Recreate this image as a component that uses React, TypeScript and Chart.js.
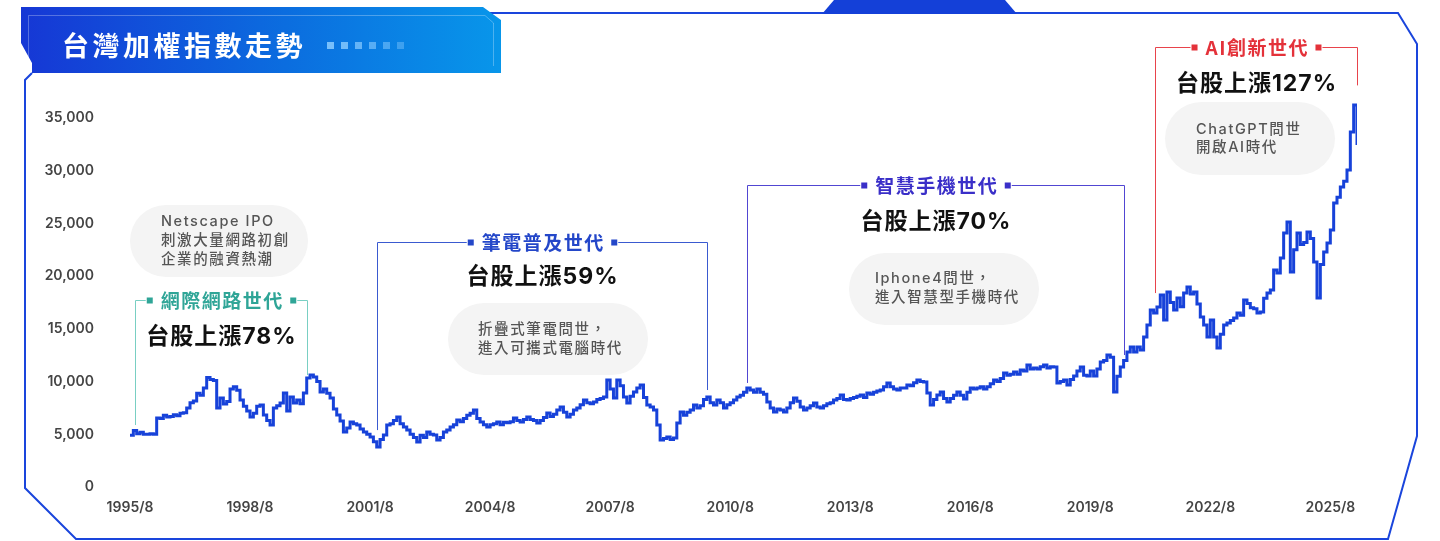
import React, { useEffect, useRef } from 'react';
import { Chart, registerables } from 'chart.js';

Chart.register(...registerables);

// ---- TAIEX monthly closes, month 0 = 1995/8 ----
const close1995to1999 = [
  4900, 5350, 5050, 5200, 5000,
  5000, 5050, 5000, 6550, 6500, 6800, 6650, 6700, 6850, 6750, 7000, 7050,
  7500, 8000, 8150, 8900, 8700, 9400, 10400, 10200, 10100, 7500, 8440, 7870,
  8100, 9300, 9500, 9180, 8250, 7650, 7200, 6640, 7000, 7650, 7780, 6830,
  6300, 5880, 7490, 7700, 7970, 8920, 7200, 8540, 7970, 8250, 7900, 8920,
];
const close2000to2004 = [
  10340, 10620, 10430, 10000, 9010, 9300, 8900, 8440, 7400, 6830, 6260, 5220,
  5600, 6170, 6000, 5880, 5500, 5220, 5000, 4740, 4300, 3800, 4500, 4930,
  5880, 6000, 6300, 6640, 6000, 5700, 5410, 5000, 4700, 4270, 4900, 4700,
  5220, 5000, 4930, 4460, 4700, 5220, 5400, 5690, 5900, 6360, 6200, 6500,
  6800, 7000, 7300, 6500, 6170, 5900, 5690, 5900, 6000, 6170, 5900, 6150,
];
const close2005to2009 = [
  6100, 6200, 6545, 6300, 6170, 6400, 6640, 6400, 6300, 6070, 6300, 6600,
  7020, 6700, 6900, 7300, 7590, 7100, 6640, 6900, 7300, 7500, 7800, 8250,
  8000, 7900, 8060, 8300, 8400, 8540, 10150, 9300, 8440, 10150, 9600, 8540,
  7970, 8600, 9010, 9400, 9670, 8500, 7780, 7600, 7300, 5880, 4460, 4600,
  4740, 4500, 4650, 6070, 7110, 6800, 7100, 7300, 7780, 7500, 7700, 8300,
];
const close2010to2014 = [
  8540, 8000, 7780, 8250, 8000, 7490, 7800, 8000, 8250, 8540, 8700, 9000,
  9390, 9200, 9000, 9300, 9000, 8800, 8060, 7500, 7110, 7400, 7300, 7110,
  7500, 8000, 8440, 8140, 7600, 7300, 7500, 7700, 7970, 7600, 7490, 7700,
  7900, 8000, 8250, 8400, 8730, 8300, 8250, 8400, 8500, 8600, 8730, 8500,
  8920, 8800, 9000, 9100, 9200, 9500, 9870, 9500, 9300, 9200, 9400, 9400,
];
const close2015to2019 = [
  9680, 9600, 9900, 10150, 10000, 9960, 8920, 7780, 8300, 8730, 9010, 8400,
  8060, 8400, 8700, 9010, 8700, 8340, 9000, 9390, 9300, 9400, 9500, 9300,
  9500, 9800, 10150, 10000, 10300, 10810, 10600, 10700, 10900, 10700, 11100, 11000,
  11570, 11200, 11300, 11190, 11400, 11570, 11300, 11400, 11380, 9870, 10000, 10150,
  9680, 10200, 10520, 11000, 11380, 10600, 10520, 11000, 10520, 11200, 11860, 12000,
];
const close2020to2026 = [
  12520, 12300, 9010, 10500, 11380, 12000, 12800, 13280, 12800, 13280, 13000, 14230,
  15370, 16790, 16500, 17070, 18210, 15840, 18500, 17500, 16800, 17930, 17090, 18400,
  18970, 18300, 18500, 17370, 16130, 15370, 14230, 15840, 14230, 13190, 14500, 15370,
  15560, 15800, 16030, 16500, 16300, 17740, 17400, 17000, 16900, 16500, 16600, 17900,
  18400, 18700, 20580, 20300, 21720, 24100, 25140, 20400, 22500, 24100, 23000, 23200,
  24190, 23570, 21340, 17930, 21100, 22300, 23150, 24380, 26940, 27500, 28460, 29000,
  30070, 33680, 36240, 32440,
];

const xTickMonths = [0, 36, 72, 108, 144, 180, 216, 252, 288, 324, 360];
const xTickLabels = ['1995/8', '1998/8', '2001/8', '2004/8', '2007/8', '2010/8', '2013/8', '2016/8', '2019/8', '2022/8', '2025/8'];
const yTickValues = [0, 5000, 10000, 15000, 20000, 25000, 30000, 35000];

// ---- Era annotations ----
const eraTitles = ['網際網路世代', '筆電普及世代', '智慧手機世代', 'AI創新世代'];
const eraGains = ['台股上漲78%', '台股上漲59%', '台股上漲70%', '台股上漲127%'];
const eraNotes = [
  ['Netscape IPO', '刺激大量網路初創', '企業的融資熱潮'],
  ['折疊式筆電問世，', '進入可攜式電腦時代'],
  ['Iphone4問世，', '進入智慧型手機時代'],
  ['ChatGPT問世', '開啟AI時代'],
];
const eraStartMonth = [1.5, 74, 185, 307.5];
const eraEndMonth = [53, 173, 298, 368];
const eraStartLevel = [5880, 5400, 9870, 18400];
const eraEndLevel = [10620, 9200, 12520, 38100];

const TITLE = '台灣加權指數走勢';

const monthlyClose = [
  ...close1995to1999,
  ...close2000to2004,
  ...close2005to2009,
  ...close2010to2014,
  ...close2015to2019,
  ...close2020to2026,
];

const eraLayout = [
  { titleY: 300, gainY: 337, bx: 130, by: 205, bw: 178, bh: 72, tx: 161, lines: [222, 241, 260], line: '#79cfc3', text: '#2fa597' },
  { titleY: 242, gainY: 277, bx: 448, by: 303, bw: 200, bh: 72, tx: 478, lines: [330, 349], line: '#3a5ad0', text: '#2447c9' },
  { titleY: 185, gainY: 222, bx: 849, by: 253, bw: 190, bh: 72, tx: 875, lines: [279, 298], line: '#5146d2', text: '#3a2fc8' },
  { titleY: 47, gainY: 84, bx: 1165, by: 102, bw: 170, bh: 73, tx: 1196, lines: [130, 148], line: '#e8434b', text: '#e4323a' },
];

function roundRect(ctx: CanvasRenderingContext2D, x: number, y: number, w: number, h: number, r: number) {
  ctx.beginPath();
  ctx.moveTo(x + r, y);
  ctx.lineTo(x + w - r, y);
  ctx.arc(x + w - r, y + r, r, -Math.PI / 2, 0);
  ctx.lineTo(x + w, y + h - r);
  ctx.arc(x + w - r, y + h - r, r, 0, Math.PI / 2);
  ctx.lineTo(x + r, y + h);
  ctx.arc(x + r, y + h - r, r, Math.PI / 2, Math.PI);
  ctx.lineTo(x, y + r);
  ctx.arc(x + r, y + r, r, Math.PI, Math.PI * 1.5);
  ctx.closePath();
}

const decorPlugin = {
  id: 'decor',
  beforeDraw(chart: any) {
    const ctx: CanvasRenderingContext2D = chart.ctx;
    ctx.save();
    ctx.fillStyle = '#ffffff';
    ctx.fillRect(0, 0, chart.width, chart.height);

    // frame
    ctx.strokeStyle = '#1a45dc';
    ctx.lineWidth = 2;
    ctx.beginPath();
    ctx.moveTo(32, 73);
    ctx.lineTo(25, 80);
    ctx.lineTo(25, 488);
    ctx.lineTo(76, 539);
    ctx.lineTo(1388, 539);
    ctx.lineTo(1417, 436);
    ctx.lineTo(1417, 44);
    ctx.lineTo(1398, 13);
    ctx.lineTo(490, 13);
    ctx.stroke();

    // top tab
    ctx.fillStyle = '#1440d8';
    ctx.beginPath();
    ctx.moveTo(822, 14);
    ctx.lineTo(834, 0);
    ctx.lineTo(1005, 0);
    ctx.lineTo(1017, 14);
    ctx.closePath();
    ctx.fill();

    // banner
    const g = ctx.createLinearGradient(21, 0, 501, 0);
    g.addColorStop(0, '#1637d5');
    g.addColorStop(0.55, '#0b6ddf');
    g.addColorStop(1, '#0896ea');
    ctx.fillStyle = g;
    ctx.beginPath();
    ctx.moveTo(21, 7);
    ctx.lineTo(483, 7);
    ctx.lineTo(501, 20);
    ctx.lineTo(501, 73);
    ctx.lineTo(32, 73);
    ctx.lineTo(32, 63);
    ctx.lineTo(21, 43);
    ctx.closePath();
    ctx.fill();

    ctx.strokeStyle = 'rgba(255,255,255,0.28)';
    ctx.lineWidth = 1;
    ctx.beginPath();
    ctx.moveTo(28.5, 66);
    ctx.lineTo(28.5, 15.5);
    ctx.lineTo(485, 15.5);
    ctx.lineTo(493.5, 23);
    ctx.lineTo(493.5, 66);
    ctx.stroke();

    ctx.fillStyle = '#ffffff';
    ctx.font = 'bold 27px "Noto Sans CJK TC"';
    (ctx as any).letterSpacing = '3.5px';
    ctx.textBaseline = 'middle';
    ctx.textAlign = 'left';
    ctx.fillText(TITLE, 62, 46);
    (ctx as any).letterSpacing = '0px';

    const dotAlpha = [0.85, 0.8, 0.7, 0.6, 0.5, 0.4];
    dotAlpha.forEach((a, i) => {
      ctx.fillStyle = `rgba(140,205,255,${a})`;
      ctx.fillRect(327 + i * 14, 42, 7, 7);
    });
    ctx.restore();
  },
  beforeDatasetsDraw(chart: any) {
    const ctx: CanvasRenderingContext2D = chart.ctx;
    const xs = chart.scales.x;
    const ys = chart.scales.y;
    ctx.save();
    eraTitles.forEach((title, i) => {
      const L = eraLayout[i];
      const x0 = Math.round(xs.getPixelForValue(eraStartMonth[i])) + 0.5;
      const x1 = Math.round(xs.getPixelForValue(eraEndMonth[i])) + 0.5;
      const cx = (x0 + x1) / 2;
      const ty = L.titleY + 0.5;
      const yb0 = ys.getPixelForValue(eraStartLevel[i]);
      const yb1 = ys.getPixelForValue(eraEndLevel[i]);

      // bubble
      ctx.fillStyle = '#f4f4f4';
      roundRect(ctx, L.bx, L.by, L.bw, L.bh, L.bh / 2);
      ctx.fill();
      ctx.fillStyle = '#555555';
      ctx.font = '500 14.5px Inter, "Noto Sans CJK TC"';
      (ctx as any).letterSpacing = '1.6px';
      ctx.textAlign = 'left';
      ctx.textBaseline = 'middle';
      eraNotes[i].forEach((t, k) => ctx.fillText(t, L.tx, L.lines[k]));

      // title
      ctx.font = 'bold 19px "Noto Sans CJK TC"';
      (ctx as any).letterSpacing = '1.5px';
      const tw = ctx.measureText(title).width - 1.5;
      const tl = cx - tw / 2;
      const tr = cx + tw / 2;
      ctx.fillStyle = L.text;
      ctx.textAlign = 'left';
      ctx.fillText(title, tl, ty);
      ctx.fillRect(tl - 14, ty - 3, 6, 6);
      ctx.fillRect(tr + 8, ty - 3, 6, 6);

      // bracket
      ctx.strokeStyle = L.line;
      ctx.lineWidth = 1;
      ctx.beginPath();
      ctx.moveTo(x0, yb0);
      ctx.lineTo(x0, ty);
      ctx.lineTo(tl - 15, ty);
      ctx.moveTo(tr + 15, ty);
      ctx.lineTo(x1, ty);
      ctx.lineTo(x1, yb1);
      ctx.stroke();

      // gain
      ctx.fillStyle = '#111111';
      ctx.font = 'bold 23px Inter, "Noto Sans CJK TC"';
      (ctx as any).letterSpacing = '1px';
      ctx.textAlign = 'center';
      ctx.fillText(eraGains[i], cx, L.gainY);
      (ctx as any).letterSpacing = '0px';
    });
    ctx.restore();
  },
};

export default function App() {
  const ref = useRef<HTMLCanvasElement | null>(null);
  useEffect(() => {
    if (!ref.current) return;
    const points = monthlyClose.map((v, i) => ({ x: i, y: v }));
    const tickFont = { family: 'Inter, "Noto Sans"', size: 14, weight: '600' as any };
    const chart = new Chart(ref.current, {
      type: 'line',
      data: {
        datasets: [
          {
            label: '台灣加權指數',
            data: points,
            borderColor: '#1742d9',
            borderWidth: 3,
            pointRadius: 0,
            stepped: true,
            fill: false,
          },
        ],
      },
      options: {
        animation: false,
        responsive: false,
        devicePixelRatio: 1,
        layout: { padding: { top: 97, right: 83, left: 0, bottom: 0 } },
        plugins: { legend: { display: false }, tooltip: { enabled: false } },
        scales: {
          x: {
            type: 'linear',
            min: 0,
            max: 368,
            grid: { display: false, drawTicks: false },
            border: { display: false },
            afterBuildTicks: (s: any) => {
              s.ticks = xTickMonths.map((v) => ({ value: v }));
            },
            afterFit: (s: any) => {
              s.height = 54;
            },
            ticks: {
              autoSkip: false,
              maxRotation: 0,
              padding: 12,
              color: '#444444',
              font: tickFont,
              callback: (_v: any, idx: number) => xTickLabels[idx] ?? '',
            },
          },
          y: {
            min: 0,
            max: 37000,
            grid: { display: false, drawTicks: false },
            border: { display: false },
            afterBuildTicks: (s: any) => {
              s.ticks = yTickValues.map((v) => ({ value: v }));
            },
            afterFit: (s: any) => {
              s.width = 130;
            },
            ticks: {
              padding: 36,
              color: '#444444',
              font: tickFont,
              callback: (v: any) => Number(v).toLocaleString('en-US'),
            },
          },
        },
      },
      plugins: [decorPlugin as any],
    });
    return () => chart.destroy();
  }, []);
  return (
    <div style={{ position: 'fixed', left: 0, top: 0, width: 1440, height: 541, background: '#ffffff' }}>
      <canvas ref={ref} width={1440} height={541} style={{ display: 'block', width: 1440, height: 541 }} />
    </div>
  );
}
